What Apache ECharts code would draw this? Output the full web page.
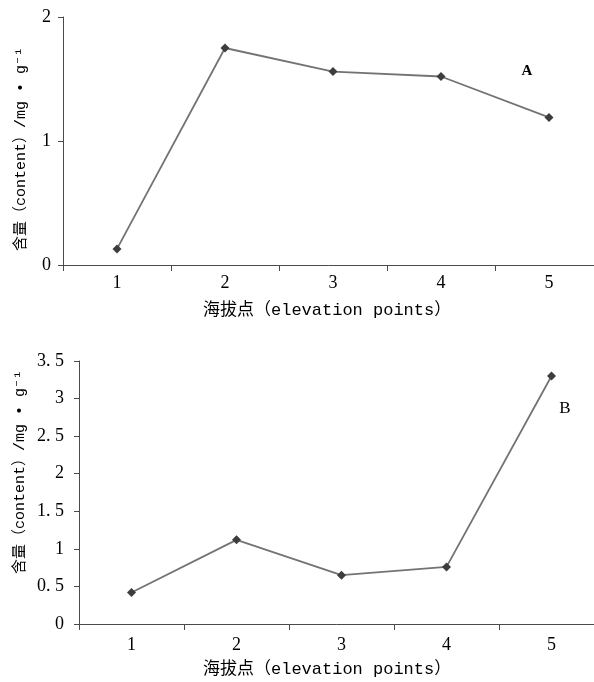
<!DOCTYPE html>
<html>
<head>
<meta charset="utf-8">
<script src="https://cdn.jsdelivr.net/npm/echarts@6/dist/echarts.min.js"></script>
<style>html,body{margin:0;padding:0;background:#fff}#c{width:594px;height:682px}</style>
</head>
<body>
<div id="c"></div>
<script>
const categories = ['1', '2', '3', '4', '5'];
const valuesA = [0.13, 1.75, 1.56, 1.52, 1.19];
const valuesB = [0.42, 1.12, 0.65, 0.76, 3.3];
const yTicksA = { min: 0, max: 2, interval: 1 };
const yTicksB = { min: 0, max: 3.5, interval: 0.5 };
const panelLabels = ['A', 'B'];
const yTitle = '含量（content）/mg • g⁻¹';
const xTitle = '海拔点（elevation points）';

const axisColor = '#4a4a4a';
const serif = '"Liberation Serif", "DejaVu Serif", serif';
const mono = '"Liberation Mono", "DejaVu Sans Mono", "Noto Sans CJK SC", monospace';

function xAx(gi, margin) {
  return {
    type: 'category', gridIndex: gi, data: categories, boundaryGap: true,
    axisLine: { lineStyle: { color: axisColor, width: 1 } },
    axisTick: { show: true, length: 6, lineStyle: { color: axisColor } },
    axisLabel: { color: '#000', fontFamily: serif, fontSize: 18, margin: margin }
  };
}
function yAx(gi, t, margin) {
  return {
    type: 'value', gridIndex: gi, min: t.min, max: t.max, interval: t.interval,
    axisLine: { show: true, lineStyle: { color: axisColor, width: 1 } },
    axisTick: { show: true, length: 5, lineStyle: { color: axisColor } },
    splitLine: { show: false },
    axisLabel: { color: '#000', fontFamily: serif, fontSize: 18, margin: margin,
      formatter: v => String(v).replace('.', '. ') }
  };
}
function ser(i, data) {
  return {
    type: 'line', xAxisIndex: i, yAxisIndex: i, data: data,
    symbol: 'diamond', symbolSize: 9,
    lineStyle: { color: '#737373', width: 1.8 },
    itemStyle: { color: '#3d3d3d' },
    animation: false
  };
}

const chart = echarts.init(document.getElementById('c'));
chart.setOption({
  animation: false,
  grid: [
    { left: 63, top: 17, width: 540, height: 248, outerBoundsMode: 'none', containLabel: false },
    { left: 79, top: 361, width: 525, height: 263, outerBoundsMode: 'none', containLabel: false }
  ],
  xAxis: [xAx(0, 9), xAx(1, 12)],
  yAxis: [yAx(0, yTicksA, 12), yAx(1, yTicksB, 15)],
  series: [ser(0, valuesA), ser(1, valuesB)],
  graphic: [
    { type: 'text', x: 21, y: 149, rotation: Math.PI / 2,
      style: { text: yTitle, font: '15px ' + mono, fill: '#000', textAlign: 'center', textVerticalAlign: 'middle' } },
    { type: 'text', x: 20, y: 472, rotation: Math.PI / 2,
      style: { text: yTitle, font: '15px ' + mono, fill: '#000', textAlign: 'center', textVerticalAlign: 'middle' } },
    { type: 'text', x: 203, y: 310,
      style: { text: xTitle, font: '17px ' + mono, fill: '#000', textAlign: 'left', textVerticalAlign: 'middle' } },
    { type: 'text', x: 203, y: 669,
      style: { text: xTitle, font: '17px ' + mono, fill: '#000', textAlign: 'left', textVerticalAlign: 'middle' } },
    { type: 'text', x: 527, y: 71,
      style: { text: panelLabels[0], font: 'bold 15px ' + serif, fill: '#000', textAlign: 'center', textVerticalAlign: 'middle' } },
    { type: 'text', x: 565, y: 409,
      style: { text: panelLabels[1], font: '17px ' + serif, fill: '#000', textAlign: 'center', textVerticalAlign: 'middle' } }
  ]
});
</script>
</body>
</html>
